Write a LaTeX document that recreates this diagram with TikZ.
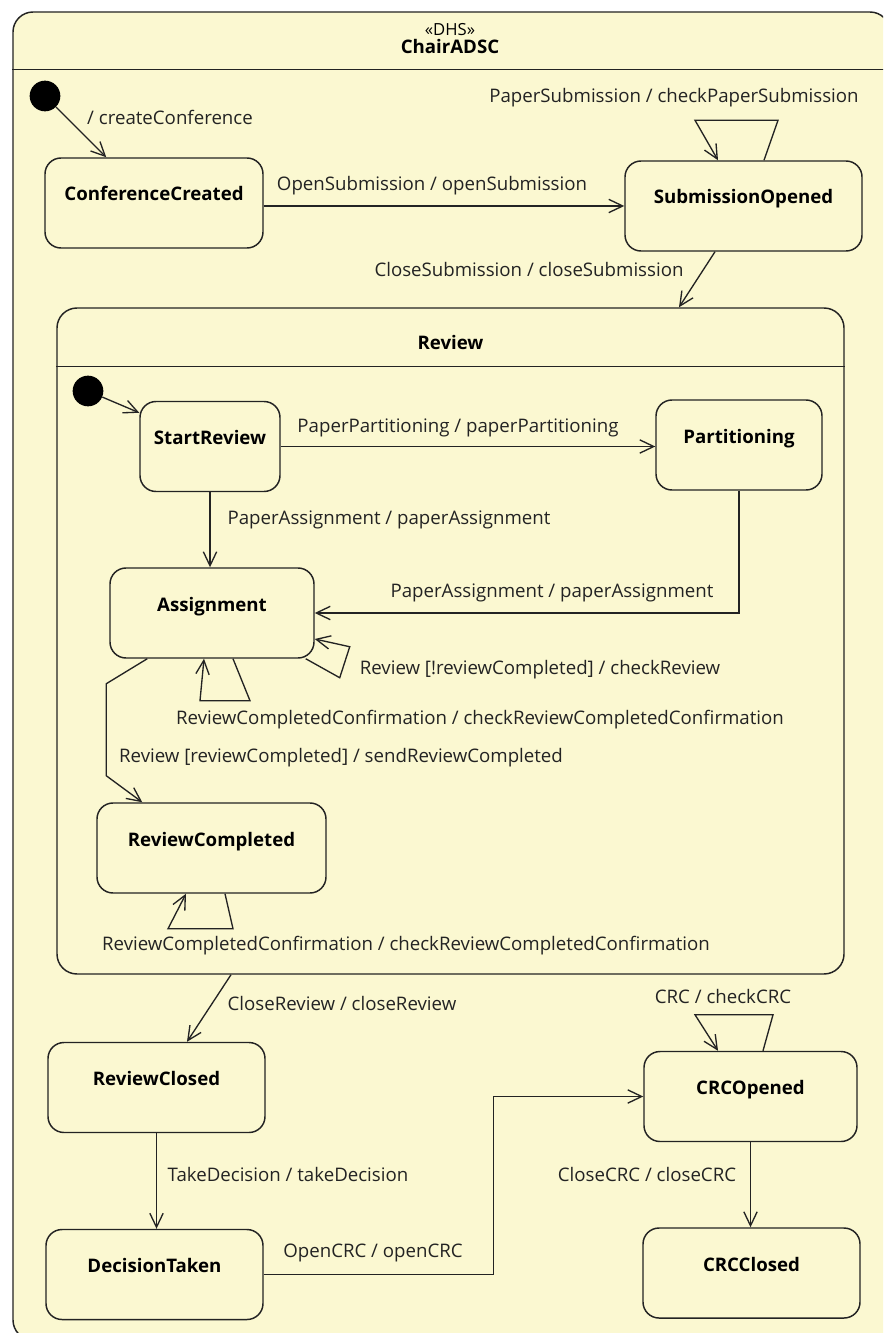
\documentclass[tikz,border=0pt]{standalone}
\usepackage{fontspec}
\setmainfont{Open Sans}
\usetikzlibrary{arrows.meta,calc}
\definecolor{umlfill}{RGB}{251,248,209}
\definecolor{umlline}{RGB}{35,35,35}
\definecolor{umltext}{RGB}{35,35,35}
\tikzset{
  statebox/.style={draw=umlline, line width=1.1pt, fill=umlfill, rounded corners=12pt,
    inner xsep=0pt, inner ysep=0pt, font=\bfseries\fontsize{14}{15}\selectfont, text=black,
    text height=32.25pt, text depth=35.25pt, minimum width=#1},
  composite/.style={draw=umlline, line width=1.1pt, fill=umlfill, rounded corners=15pt,
    inner sep=0pt, minimum width=#1},
  trans/.style={draw=umlline, line width=1pt, -{Straight Barb[length=10.5pt,width=10pt]}},
  tlabel/.style={font=\fontsize{14}{16}\selectfont, text=umltext, inner sep=0pt},
  initstate/.style={circle, fill=black, minimum size=23pt, inner sep=0pt},
}
\begin{document}
\begin{tikzpicture}[x=0.75pt,y=-0.75pt]
\useasboundingbox (0,0) rectangle (883,1333);
\clip (0,0) rectangle (883,1333);
\fill[white] (0,0) rectangle (883,1333);

% enclosing state machine
\node[composite=657.75pt, minimum height=996pt] (chair) at (451.5,676) {};
\draw[umlline, line width=1.1pt] ($(chair.north west)+(0,58)$) -- ($(chair.north east)+(0,58)$);
\node[align=center, inner sep=0pt, font=\fontsize{14}{13.5}\selectfont] (chairname) at (450,39)
  {{\fontsize{12.5}{13.5}\selectfont «DHS»}\\\textbf{ChairADSC}};

% Review composite state
\node[composite=590.25pt, minimum height=499.5pt] (rv) at (450.5,641) {};
\draw[umlline, line width=1.1pt] ($(rv.north west)+(0,59)$) -- ($(rv.north east)+(0,59)$);
\node[font=\bfseries\fontsize{14}{15}\selectfont, inner sep=0pt] (rvname) at ($(rv.north)+(0,35)$) {Review};

% simple states
\node[statebox=163.5pt] (cc) at (154,203) {ConferenceCreated};
\node[statebox=177.75pt] (so) at (743.5,206) {SubmissionOpened};
\node[statebox=105pt] (sr) at (210,446.5) {StartReview};
\node[statebox=124.5pt] (pt) at (739,445) {Partitioning};
\node[statebox=153pt] (as) at (212,613) {Assignment};
\node[statebox=171.75pt] (rc) at (211.5,848) {ReviewCompleted};
\node[statebox=162.75pt] (rcl) at (156.5,1087.5) {ReviewClosed};
\node[statebox=162.75pt] (dt) at (154.5,1274.5) {DecisionTaken};
\node[statebox=159.75pt] (co) at (750.5,1096.5) {CRCOpened};
\node[statebox=162.75pt] (ccl) at (751.5,1273) {CRCClosed};

% initial pseudostates
\node[initstate] (i1) at (45,96) {};
\node[initstate] (i2) at (88,391) {};

% transitions
\draw[trans] (i1) -- ($(cc.north west)+(62,0)$);
\draw[trans] (cc.east |- so.west) -- (so.west);
\draw[trans] ($(so.north)+(20.5,0)$) -- ++(14,-40) -- ++(-83,0) -- ($(so.north)+(-25.5,0)$);
\draw[trans] ($(so.south)+(-28.5,0)$) -- ($(rv.north)+(228.5,0)$);
\draw[trans] (i2) -- ($(sr.north west)+(0,12)$);
\draw[trans] (sr.east) -- (sr.east -| pt.west);
\draw[trans] (sr.south) -- (sr.south |- as.north);
\draw[trans] (pt.south) |- (as.east);
\draw[trans] ($(as.south east)+(-9,0)$) -- ++(34,19) -- ++(10,-31) -- ($(as.east)+(0,26)$);
\draw[trans] ($(as.south)+(21,0)$) -- ++(17,42) -- ++(-50,0) -- ($(as.south)+(-8,0)$);
\draw[trans] ($(as.south west)+(38,0)$) -- ++(-41,25) -- ++(0,92) -- ($(rc.north west)+(46,0)$);
\draw[trans] ($(rc.south)+(13.5,0)$) -- ++(8,35) -- ++(-65,0) -- ($(rc.south)+(-25.5,0)$);
\draw[trans] ($(rv.south)+(-219.5,0)$) -- ($(rcl.north)+(30.5,0)$);
\draw[trans] (rcl.south) -- (rcl.south |- dt.north);
\draw[trans] (dt.east) -| ($(co.west)+(-150,0)$) -- (co.west);
\draw[trans] ($(co.north)+(12.5,0)$) -- ++(10,-36) -- ++(-78,0) -- ($(co.north)+(-32.5,0)$);
\draw[trans] (co.south) -- (co.south |- ccl.north);

% transition labels
\node[tlabel] (l1) at (170,117) {/ createConference};
\node[tlabel] (l2) at (432,186) {OpenSubmission / openSubmission};
\node[tlabel] (l3) at (674,98) {PaperSubmission / checkPaperSubmission};
\node[tlabel] (l4) at (529,270) {CloseSubmission / closeSubmission};
\node[tlabel] (l5) at (458,428) {PaperPartitioning / paperPartitioning};
\node[tlabel] (l6) at (389,520) {PaperAssignment / paperAssignment};
\node[tlabel] (l7) at (552,593) {PaperAssignment / paperAssignment};
\node[tlabel] (l8) at (540,670) {Review [!reviewCompleted] / checkReview};
\node[tlabel] (l9) at (480,720) {ReviewCompletedConfirmation / checkReviewCompletedConfirmation};
\node[tlabel] (l10) at (341,758) {Review [reviewCompleted] / sendReviewCompleted};
\node[tlabel] (l11) at (406,946) {ReviewCompletedConfirmation / checkReviewCompletedConfirmation};
\node[tlabel] (l12) at (342,1003) {CloseReview / closeReview};
\node[tlabel] (l13) at (288,1174) {TakeDecision / takeDecision};
\node[tlabel] (l14) at (373,1253) {OpenCRC / openCRC};
\node[tlabel] (l15) at (723,996) {CRC / checkCRC};
\node[tlabel] (l16) at (647,1174) {CloseCRC / closeCRC};
\end{tikzpicture}
\end{document}
